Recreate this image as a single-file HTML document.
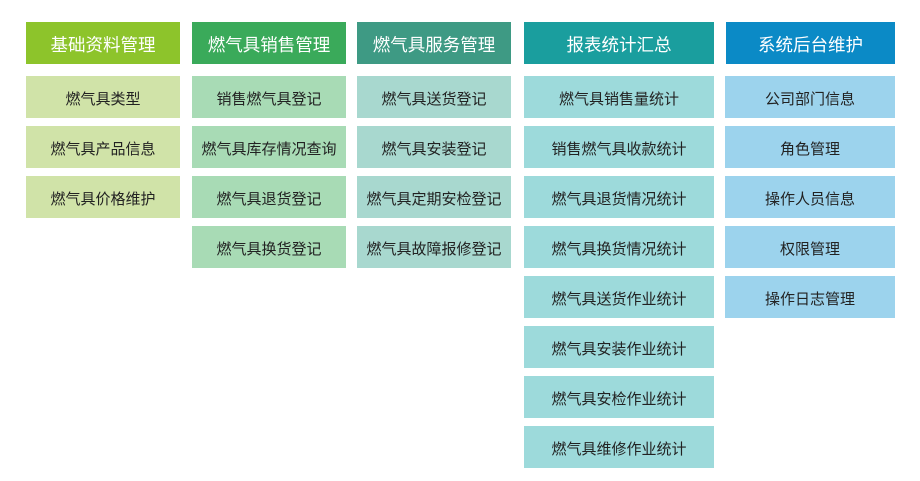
<!DOCTYPE html>
<html><head><meta charset="utf-8"><style>
body{margin:0;width:920px;height:481px;background:#fff;position:relative;font-family:"Liberation Sans","Noto Sans CJK SC",sans-serif;overflow:hidden}
.b{position:absolute;height:42px;line-height:47px;text-align:center;font-size:15px;color:#222;overflow:hidden;white-space:nowrap}
.h{font-size:17.5px;color:#fff;line-height:46px}
</style></head><body>
<div class="b h" style="left:26px;top:22px;width:154px;background:#8dc42b">基础资料管理</div>
<div class="b" style="left:26px;top:76px;width:154px;background:#d0e3a8">燃气具类型</div>
<div class="b" style="left:26px;top:126px;width:154px;background:#d0e3a8">燃气具产品信息</div>
<div class="b" style="left:26px;top:176px;width:154px;background:#d0e3a8">燃气具价格维护</div>

<div class="b h" style="left:192px;top:22px;width:154px;background:#3aaa5a">燃气具销售管理</div>
<div class="b" style="left:192px;top:76px;width:154px;background:#a8dbb5">销售燃气具登记</div>
<div class="b" style="left:192px;top:126px;width:154px;background:#a8dbb5">燃气具库存情况查询</div>
<div class="b" style="left:192px;top:176px;width:154px;background:#a8dbb5">燃气具退货登记</div>
<div class="b" style="left:192px;top:226px;width:154px;background:#a8dbb5">燃气具换货登记</div>

<div class="b h" style="left:357px;top:22px;width:154px;background:#3e9a84">燃气具服务管理</div>
<div class="b" style="left:357px;top:76px;width:154px;background:#a8d8cf">燃气具送货登记</div>
<div class="b" style="left:357px;top:126px;width:154px;background:#a8d8cf">燃气具安装登记</div>
<div class="b" style="left:357px;top:176px;width:154px;background:#a8d8cf">燃气具定期安检登记</div>
<div class="b" style="left:357px;top:226px;width:154px;background:#a8d8cf">燃气具故障报修登记</div>

<div class="b h" style="left:524px;top:22px;width:190px;background:#1a9e9e">报表统计汇总</div>
<div class="b" style="left:524px;top:76px;width:190px;background:#9ddadb">燃气具销售量统计</div>
<div class="b" style="left:524px;top:126px;width:190px;background:#9ddadb">销售燃气具收款统计</div>
<div class="b" style="left:524px;top:176px;width:190px;background:#9ddadb">燃气具退货情况统计</div>
<div class="b" style="left:524px;top:226px;width:190px;background:#9ddadb">燃气具换货情况统计</div>
<div class="b" style="left:524px;top:276px;width:190px;background:#9ddadb">燃气具送货作业统计</div>
<div class="b" style="left:524px;top:326px;width:190px;background:#9ddadb">燃气具安装作业统计</div>
<div class="b" style="left:524px;top:376px;width:190px;background:#9ddadb">燃气具安检作业统计</div>
<div class="b" style="left:524px;top:426px;width:190px;background:#9ddadb">燃气具维修作业统计</div>

<div class="b h" style="left:726px;top:22px;width:169px;background:#0b8ac6">系统后台维护</div>
<div class="b" style="left:725px;top:76px;width:170px;background:#9cd3ed">公司部门信息</div>
<div class="b" style="left:725px;top:126px;width:170px;background:#9cd3ed">角色管理</div>
<div class="b" style="left:725px;top:176px;width:170px;background:#9cd3ed">操作人员信息</div>
<div class="b" style="left:725px;top:226px;width:170px;background:#9cd3ed">权限管理</div>
<div class="b" style="left:725px;top:276px;width:170px;background:#9cd3ed">操作日志管理</div>
</body></html>
